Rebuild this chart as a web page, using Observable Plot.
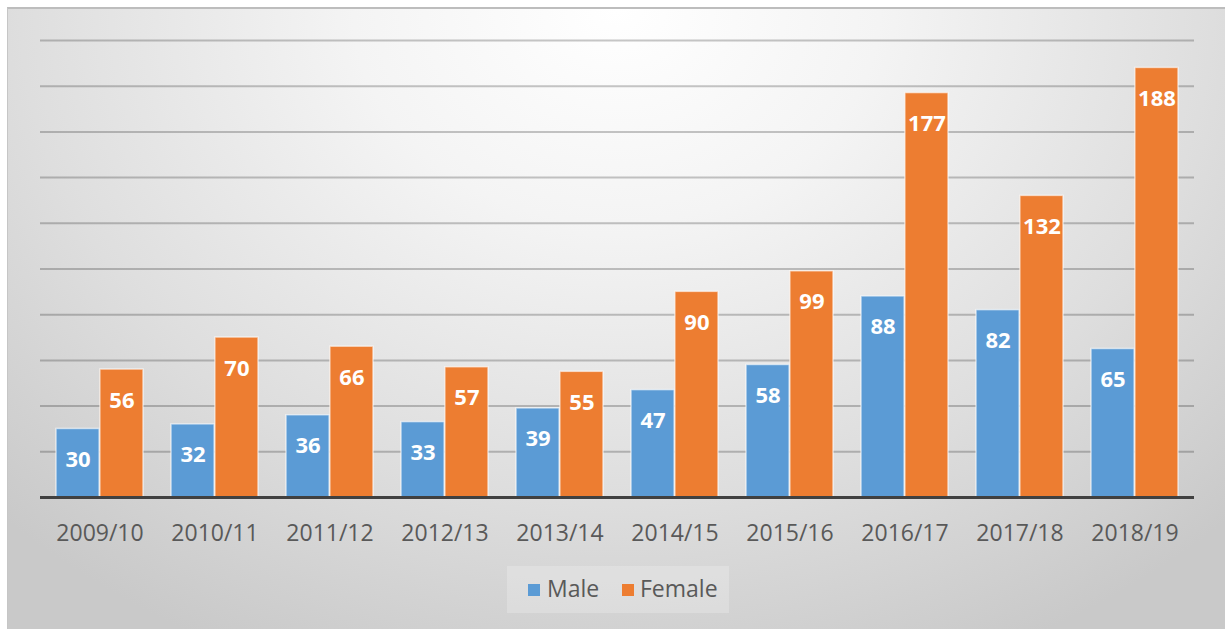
<!DOCTYPE html>
<html><head><meta charset="utf-8">
<script src="https://cdn.jsdelivr.net/npm/d3@7"></script>
<script src="https://cdn.jsdelivr.net/npm/@observablehq/plot@0.6"></script>
<style>
html,body{margin:0;padding:0;background:#fff;width:1225px;height:629px;overflow:hidden;font-family:"Open Sans",sans-serif;}
#bg{position:absolute;left:7px;top:7px;width:1218px;height:622px;box-sizing:border-box;border-top:2px solid #bdbdbd;border-left:1px solid #c6c6c6;
background:radial-gradient(ellipse 72% 115% at 50% 0%, #ffffff 0%, #f4f4f4 30%, #dedede 68%, #c9c9c9 100%);}
#chart{position:absolute;left:0;top:0;}
#legend{position:absolute;left:507px;top:566px;width:222px;height:47px;background:rgba(255,255,255,0.22);}
.sw{position:absolute;width:12px;height:12px;top:18px;}
.lb{position:absolute;top:6px;font-size:23px;line-height:32px;color:#595959;}
</style></head><body>
<div id="bg"></div><div id="chart"></div><div id="legend"></div>
<script>
const years = ["2009/10","2010/11","2011/12","2012/13","2013/14","2014/15","2015/16","2016/17","2017/18","2018/19"];
const male = [30,32,36,33,39,47,58,88,82,65];
const female = [56,70,66,57,55,90,99,177,132,188];
const seriesNames = ["Male","Female"];
const seriesColors = ["#5b9bd5","#ed7d31"];
const gridTicks = [20,40,60,80,100,120,140,160,180,200];

const rows = years.map((year,i)=>({year, male: male[i], female: female[i]}));

const W = 1225, H = 560, mL = 40, mR = 31, mT = 40, mB = 63;
const band = d3.scaleBand().domain(years).range([mL, W - mR]).paddingInner(0.24).paddingOuter(0.12);
const half = band.bandwidth() / 2;

const chart = Plot.plot({
  width: W, height: H,
  marginTop: mT, marginBottom: mB, marginLeft: mL, marginRight: mR,
  style: {background: "transparent", fontFamily: "'Open Sans', sans-serif", fontSize: "23px", color: "#595959", overflow: "visible"},
  x: {domain: years, paddingInner: 0.24, paddingOuter: 0.12, tickSize: 0, tickPadding: 27, label: null},
  y: {domain: [0, 200], axis: null},
  marks: [
    Plot.ruleY(gridTicks, {stroke: "#000", strokeOpacity: 0.22, strokeWidth: 2}),
    Plot.barY(rows, {x: "year", y: "male", fill: seriesColors[0], insetRight: half, stroke: "#fff", strokeOpacity: 0.6, strokeWidth: 1.5}),
    Plot.barY(rows, {x: "year", y: "female", fill: seriesColors[1], insetLeft: half, stroke: "#fff", strokeOpacity: 0.6, strokeWidth: 1.5}),
    Plot.ruleY([0], {stroke: "#404040", strokeWidth: 3}),
    Plot.text(rows, {x: "year", y: "male", text: d => String(d.male), dx: -half / 2, dy: 31, fill: "white", fontWeight: "bold", fontSize: 22}),
    Plot.text(rows, {x: "year", y: "female", text: d => String(d.female), dx: half / 2, dy: 31, fill: "white", fontWeight: "bold", fontSize: 22})
  ]
});
document.getElementById("chart").appendChild(chart);

const legend = document.getElementById("legend");
const legendPos = [[21, 40], [115, 133]];
seriesNames.forEach((name, i) => {
  const sw = document.createElement("div");
  sw.className = "sw"; sw.style.left = legendPos[i][0] + "px"; sw.style.background = seriesColors[i];
  const lb = document.createElement("div");
  lb.className = "lb"; lb.style.left = legendPos[i][1] + "px"; lb.textContent = name;
  legend.appendChild(sw); legend.appendChild(lb);
});
</script>
</body></html>
